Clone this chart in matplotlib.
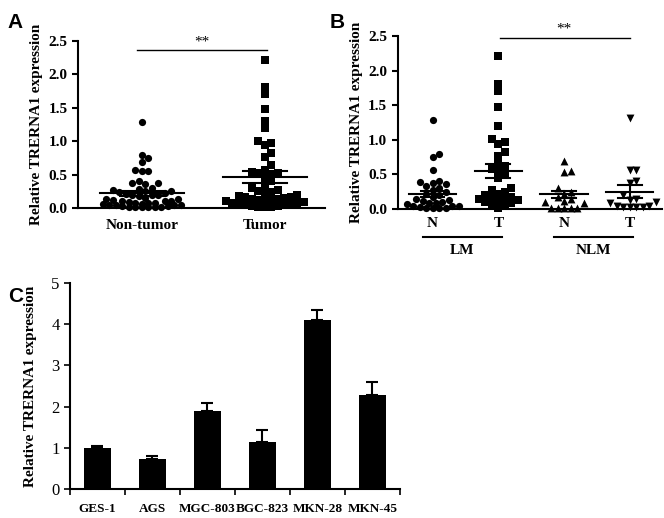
import numpy as np
import matplotlib
matplotlib.use('Agg')
import matplotlib.pyplot as plt
import matplotlib.transforms as mtrans

plt.rcParams['font.family'] = ['Liberation Serif', 'DejaVu Serif']
plt.rcParams['axes.linewidth'] = 1.5

# ---- data ----
a_groups = ['Non-tumor', 'Tumor']
a_nontumor = [1.28, 0.80, 0.75, 0.69, 0.57, 0.55, 0.55, 0.41, 0.38, 0.37, 0.36,
              0.30, 0.29, 0.27, 0.26, 0.25, 0.24, 0.22, 0.21, 0.20, 0.20, 0.19, 0.18,
              0.15, 0.14, 0.13, 0.12, 0.11, 0.10, 0.10, 0.09, 0.08, 0.08, 0.07, 0.06,
              0.06, 0.05, 0.05, 0.04, 0.04, 0.03, 0.03, 0.02, 0.02, 0.02, 0.01, 0.01, 0.01]
a_tumor = [2.21, 1.81, 1.70, 1.48, 1.30, 1.20, 1.01, 0.97, 0.94, 0.82, 0.77,
           0.65, 0.57, 0.54, 0.53, 0.52, 0.51, 0.45, 0.40, 0.35, 0.30, 0.27, 0.25,
           0.24, 0.22, 0.20, 0.18, 0.17, 0.16, 0.15, 0.14, 0.13, 0.12, 0.12, 0.11,
           0.10, 0.09, 0.08, 0.07, 0.06, 0.05, 0.05, 0.04, 0.03, 0.03, 0.02, 0.02, 0.01]
a_mean = [0.22, 0.46]
a_sem = [0.035, 0.09]

b_ticks = ['N', 'T', 'N', 'T']
b_groups = ['LM', 'NLM']
b_lm_n = [1.28, 0.80, 0.75, 0.57, 0.40, 0.39, 0.38, 0.36, 0.33, 0.30, 0.28, 0.25,
          0.22, 0.20, 0.18, 0.15, 0.13, 0.12, 0.10, 0.09, 0.08, 0.07, 0.05, 0.05,
          0.04, 0.03, 0.02, 0.02, 0.01, 0.01]
b_lm_t = [2.21, 1.81, 1.70, 1.48, 1.20, 1.01, 0.97, 0.94, 0.82, 0.77, 0.65, 0.62,
          0.58, 0.55, 0.52, 0.45, 0.30, 0.28, 0.25, 0.22, 0.20, 0.18, 0.16, 0.15,
          0.14, 0.13, 0.12, 0.10, 0.08, 0.06, 0.04, 0.02]
b_nlm_n = [0.70, 0.55, 0.53, 0.30, 0.25, 0.22, 0.18, 0.15, 0.12, 0.10, 0.08,
           0.02, 0.02, 0.02, 0.02, 0.02]
b_nlm_t = [1.31, 0.57, 0.57, 0.41, 0.38, 0.20, 0.15, 0.13, 0.10, 0.08, 0.05,
           0.04, 0.03, 0.03, 0.03, 0.03]
b_mean = [0.22, 0.55, 0.21, 0.25]
b_sem = [0.04, 0.095, 0.055, 0.09]

c_lines = ['GES-1', 'AGS', 'MGC-803', 'BGC-823', 'MKN-28', 'MKN-45']
c_vals = [1.0, 0.72, 1.9, 1.15, 4.1, 2.27]
c_err = [0.05, 0.09, 0.19, 0.29, 0.24, 0.33]

YLAB = 'Relative TRERNA1 expression'


def swarm(vals, pxx, pxy, d, maxw):
    """beeswarm offsets (data units); pxx/pxy = pixels per data unit"""
    vals = np.asarray(vals, float)
    order = np.argsort(vals)
    xs = np.zeros(len(vals))
    placed = []
    lim = maxw * pxx
    for i in order:
        y = vals[i] * pxy
        cands = [0.0]
        k = 1
        while k * d * 0.5 <= lim:
            cands += [k * d * 0.5, -k * d * 0.5]
            k += 1
        best, best_ov = 0.0, None
        for c in cands:
            ov = 0.0
            for (px, py) in placed:
                dist = np.hypot(px - c, py - y)
                if dist < d:
                    ov += d - dist
            if ov == 0:
                best = c
                best_ov = 0
                break
            if best_ov is None or ov < best_ov:
                best, best_ov = c, ov
        placed.append((best, y))
        xs[i] = best / pxx
    return xs


def style(ax):
    for sp in ['top', 'right']:
        ax.spines[sp].set_visible(False)
    ax.tick_params(axis='y', direction='out', width=1.5, length=4, labelsize=11)
    for lb in ax.get_yticklabels():
        lb.set_fontweight('bold')


def mean_sem(ax, x, m, s, hw, hs):
    ax.plot([x - hw, x + hw], [m, m], color='black', lw=1.5, zorder=4)
    ax.plot([x - hs, x + hs], [m - s, m - s], color='black', lw=1.5, zorder=4)
    ax.plot([x - hs, x + hs], [m + s, m + s], color='black', lw=1.5, zorder=4)
    ax.plot([x, x], [m - s, m + s], color='black', lw=1.5, zorder=4)


fig = plt.figure(figsize=(6.64, 5.18), dpi=100)

# ---- A ----
axA = fig.add_axes([0.1175, 0.5985, 0.372, 0.3224])
for i, (vals, mk, sz) in enumerate([(a_nontumor, 'o', 27), (a_tumor, 's', 30)]):
    xs = i + swarm(vals, 123, 67, 6.5, 0.34)
    axA.scatter(xs, vals, marker=mk, s=sz, color='black', lw=0, clip_on=False, zorder=3)
    mean_sem(axA, i, a_mean[i], a_sem[i], 0.34, 0.18)
axA.set_xlim(-0.52, 1.49)
axA.set_ylim(0, 2.5)
axA.set_yticks([0, 0.5, 1.0, 1.5, 2.0, 2.5])
axA.set_yticklabels(['0.0', '0.5', '1.0', '1.5', '2.0', '2.5'])
axA.set_xticks([0, 1])
axA.set_xticklabels(a_groups, fontsize=11, fontweight='bold')
axA.tick_params(axis='x', length=0, pad=8)
style(axA)
axA.set_ylabel(YLAB, fontsize=11, fontweight='bold', labelpad=4)
axA.plot([-0.04, 1.02], [2.365, 2.365], color='black', lw=1, clip_on=False)
axA.text(0.49, 2.39, '**', ha='center', va='bottom', fontsize=11)

# ---- B ----
axB = fig.add_axes([0.599, 0.5965, 0.398, 0.334])
b_sets = [(b_lm_n, 'o', 27), (b_lm_t, 's', 30), (b_nlm_n, '^', 32), (b_nlm_t, 'v', 32)]
for i, (vals, mk, sz) in enumerate(b_sets):
    xs = i + swarm(vals, 65.7, 69, 6.5, 0.4)
    axB.scatter(xs, vals, marker=mk, s=sz, color='black', lw=0, clip_on=False, zorder=3)
    mean_sem(axB, i, b_mean[i], b_sem[i], 0.36, 0.18)
axB.set_xlim(-0.53, 3.49)
axB.set_ylim(0, 2.5)
axB.set_yticks([0, 0.5, 1.0, 1.5, 2.0, 2.5])
axB.set_yticklabels(['0.0', '0.5', '1.0', '1.5', '2.0', '2.5'])
axB.set_xticks(range(4))
axB.set_xticklabels(b_ticks, fontsize=11, fontweight='bold')
axB.tick_params(axis='x', length=0, pad=6)
style(axB)
axB.set_ylabel(YLAB, fontsize=11, fontweight='bold', labelpad=4)
axB.plot([1.02, 3.0], [2.47, 2.47], color='black', lw=1, clip_on=False)
axB.text(2.0, 2.5, '**', ha='center', va='bottom', fontsize=11)
tr = mtrans.blended_transform_factory(axB.transData, axB.transAxes)
for j, g in enumerate(b_groups):
    x0, x1 = 2 * j - 0.15, 2 * j + 1.05
    axB.plot([x0, x1], [-0.162, -0.162], color='black', lw=1.5,
             transform=tr, clip_on=False)
    axB.text((x0 + x1) / 2, -0.2, g, transform=tr, ha='center', va='top',
             fontsize=11, fontweight='bold')

# ---- C ----
axC = fig.add_axes([0.1054, 0.056, 0.497, 0.398])
xc = np.arange(len(c_lines))
axC.bar(xc, c_vals, width=0.5, color='black', zorder=2)
axC.errorbar(xc, c_vals, yerr=[np.zeros(len(c_err)), c_err], fmt='none',
             ecolor='black', elinewidth=1.5, capsize=4, capthick=1.5, zorder=1)
axC.set_xlim(-0.5, 5.5)
axC.set_ylim(0, 5)
axC.set_yticks(range(6))
axC.set_xticks(xc)
axC.set_xticklabels(c_lines, fontsize=9.5, fontweight='bold')
axC.set_xticks(np.arange(-0.5, 6, 1), minor=True)
axC.tick_params(axis='x', which='major', length=0, pad=10)
axC.tick_params(axis='x', which='minor', length=4, width=1.2, direction='out')
for sp in ['top', 'right']:
    axC.spines[sp].set_visible(False)
axC.tick_params(axis='y', direction='out', width=1.2, length=4, labelsize=12)
axC.set_ylabel(YLAB, fontsize=11, fontweight='bold', labelpad=10)

# panel letters
for lt, (x, y) in zip('ABC', [(0.012, 0.975), (0.497, 0.975), (0.012, 0.445)]):
    fig.text(x, y, lt, fontsize=15, fontweight='bold', family='Liberation Sans',
             va='top', ha='left')

fig.savefig('out.png', dpi=100)
